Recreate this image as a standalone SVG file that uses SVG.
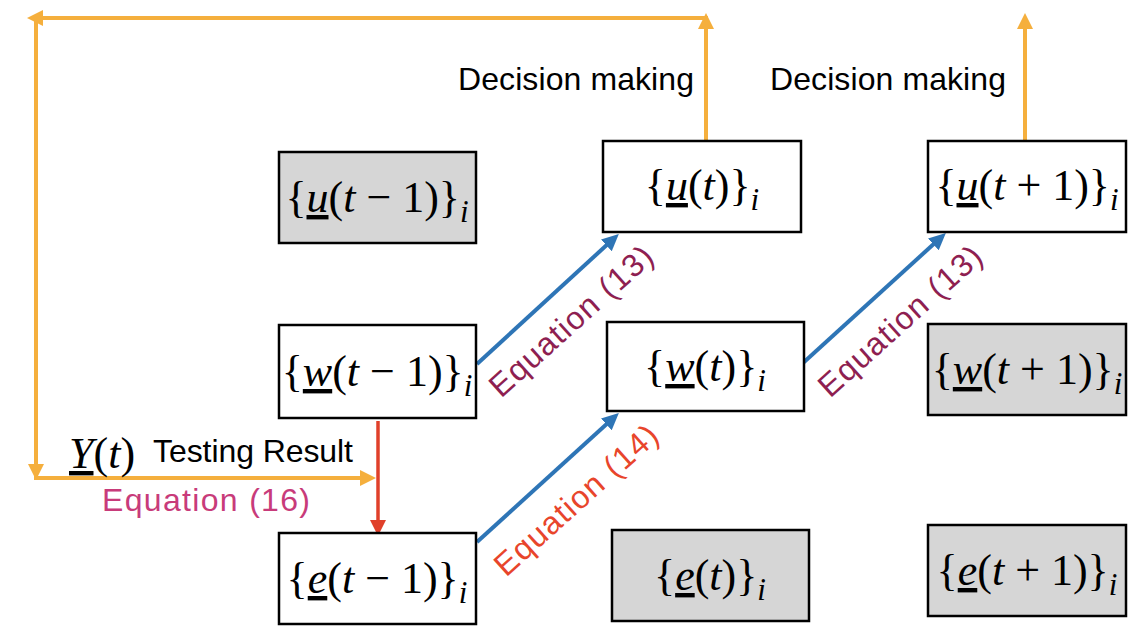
<svg xmlns="http://www.w3.org/2000/svg" width="1140" height="640" viewBox="0 0 1140 640">
<style>
.box{stroke:#000;stroke-width:2.5;fill:#fff}
.gray{fill:#d6d6d6}
.math{font-family:"Liberation Serif","Times New Roman",serif;font-size:44px;fill:#000}
.it{font-style:italic}
.ul{text-decoration:underline}
.sub{font-style:italic;font-size:31px}
.lbl{font-family:"Liberation Sans",Arial,sans-serif;font-size:32px;fill:#000}
.orange{stroke:#F5AF3D;stroke-width:4;fill:none}
.blue{stroke:#2E75B6;stroke-width:4;fill:none}
.red{stroke:#E0402A;stroke-width:3.5;fill:none}
</style>
<defs>
<marker id="ao" markerUnits="userSpaceOnUse" markerWidth="16" markerHeight="16" refX="4" refY="8" orient="auto"><path d="M0,0 L16,8 L0,16 z" fill="#F5AF3D"/></marker>
<marker id="ab" markerUnits="userSpaceOnUse" markerWidth="18" markerHeight="16" refX="5" refY="8" orient="auto"><path d="M0,0 L17,8 L0,16 z" fill="#2E75B6"/></marker>
<marker id="ar" markerUnits="userSpaceOnUse" markerWidth="16" markerHeight="16" refX="4" refY="8" orient="auto"><path d="M0,0 L16,8 L0,16 z" fill="#E0402A"/></marker>
</defs>

<g id="connectors">
<line class="orange" x1="706" y1="141" x2="706" y2="25" marker-end="url(#ao)"/>
<line class="orange" x1="708" y1="18" x2="39" y2="18" marker-end="url(#ao)"/>
<line class="orange" x1="36" y1="18" x2="36" y2="468" marker-end="url(#ao)"/>
<line class="orange" x1="34" y1="478" x2="364" y2="478" marker-end="url(#ao)"/>
<line class="orange" x1="1025" y1="141" x2="1025" y2="25" marker-end="url(#ao)"/>
<line class="blue" x1="477" y1="364" x2="610" y2="242" marker-end="url(#ab)"/>
<line class="blue" x1="477" y1="542" x2="610" y2="421" marker-end="url(#ab)"/>
<line class="blue" x1="803" y1="363" x2="937" y2="241" marker-end="url(#ab)"/>
<line class="red" x1="378" y1="421" x2="378" y2="524" marker-end="url(#ar)"/>
</g>

<g id="labels">
<text class="lbl" x="458" y="90" textLength="236">Decision making</text>
<text class="lbl" x="770" y="90" textLength="236">Decision making</text>
<text class="lbl" x="153" y="462" textLength="200">Testing Result</text>
<text class="math" x="69" y="468" font-size="41"><tspan class="it ul">Y</tspan>(<tspan class="it">t</tspan>)</text>
<text class="lbl" x="102" y="511" style="fill:#C83B7A" textLength="208">Equation (16)</text>
<text class="lbl" transform="translate(571,321) rotate(-42)" text-anchor="middle" y="11" style="fill:#8E1F51" textLength="208">Equation (13)</text>
<text class="lbl" transform="translate(576,500) rotate(-42)" text-anchor="middle" y="11" style="fill:#E8452B" textLength="208">Equation (14)</text>
<text class="lbl" transform="translate(900,321) rotate(-42)" text-anchor="middle" y="11" style="fill:#8E1F51" textLength="208">Equation (13)</text>
</g>

<g id="node-u-tm1">
<rect class="box gray" x="279" y="152" width="197" height="91"/>
<text class="math" x="377" y="212" text-anchor="middle">{<tspan class="it ul">u</tspan>(<tspan class="it">t</tspan> − 1)}<tspan class="sub" dy="10">i</tspan></text>
</g>
<g id="node-w-tm1">
<rect class="box" x="279" y="325" width="197" height="93"/>
<text class="math" x="377" y="386" text-anchor="middle">{<tspan class="it ul">w</tspan>(<tspan class="it">t</tspan> − 1)}<tspan class="sub" dy="10">i</tspan></text>
</g>
<g id="node-e-tm1">
<rect class="box" x="279" y="533" width="197" height="91"/>
<text class="math" x="377" y="593" text-anchor="middle">{<tspan class="it ul">e</tspan>(<tspan class="it">t</tspan> − 1)}<tspan class="sub" dy="10">i</tspan></text>
</g>
<g id="node-u-t">
<rect class="box" x="603" y="141" width="198" height="91"/>
<text class="math" x="702" y="200" text-anchor="middle">{<tspan class="it ul">u</tspan>(<tspan class="it">t</tspan>)}<tspan class="sub" dy="10">i</tspan></text>
</g>
<g id="node-w-t">
<rect class="box" x="607" y="322" width="197" height="89"/>
<text class="math" x="705" y="381" text-anchor="middle">{<tspan class="it ul">w</tspan>(<tspan class="it">t</tspan>)}<tspan class="sub" dy="10">i</tspan></text>
</g>
<g id="node-e-t">
<rect class="box gray" x="612" y="530" width="197" height="91"/>
<text class="math" x="710" y="590" text-anchor="middle">{<tspan class="it ul">e</tspan>(<tspan class="it">t</tspan>)}<tspan class="sub" dy="10">i</tspan></text>
</g>
<g id="node-u-tp1">
<rect class="box" x="928" y="141" width="198" height="91"/>
<text class="math" x="1027" y="200" text-anchor="middle">{<tspan class="it ul">u</tspan>(<tspan class="it">t</tspan> + 1)}<tspan class="sub" dy="10">i</tspan></text>
</g>
<g id="node-w-tp1">
<rect class="box gray" x="928" y="324" width="198" height="91"/>
<text class="math" x="1027" y="384" text-anchor="middle">{<tspan class="it ul">w</tspan>(<tspan class="it">t</tspan> + 1)}<tspan class="sub" dy="10">i</tspan></text>
</g>
<g id="node-e-tp1">
<rect class="box gray" x="928" y="525" width="198" height="91"/>
<text class="math" x="1027" y="585" text-anchor="middle">{<tspan class="it ul">e</tspan>(<tspan class="it">t</tspan> + 1)}<tspan class="sub" dy="10">i</tspan></text>
</g>
</svg>
